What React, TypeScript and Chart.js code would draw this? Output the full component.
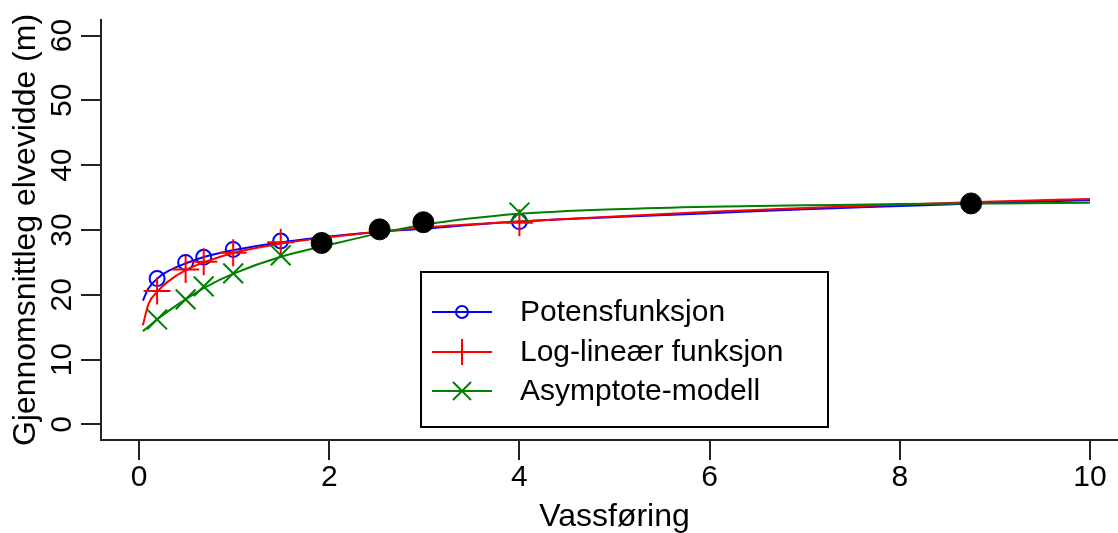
import React, { useEffect, useRef } from "react";
import { Chart, registerables } from "chart.js";

Chart.register(...registerables);

const FONT = "'Liberation Sans', Arial, sans-serif";

// Fitted curves
const curveX = [0.04, 0.1, 0.2, 0.3, 0.5, 0.7, 1, 1.5, 2, 2.5, 3, 3.5, 4, 5, 6, 7, 8, 9, 10];
const potensCurve = [19.1, 21.0, 22.6, 23.6, 24.9, 25.9, 26.9, 28.1, 29.0, 29.7, 30.2, 30.8, 31.3, 32.0, 32.6, 33.2, 33.7, 34.2, 34.6];
const loglinCurve = [15.3, 18.6, 20.6, 22.0, 23.9, 25.1, 26.5, 27.9, 28.9, 29.7, 30.4, 30.9, 31.3, 32.1, 32.8, 33.4, 33.9, 34.4, 34.8];
const asymCurve = [14.4, 15.1, 16.3, 17.4, 19.4, 21.2, 23.3, 25.9, 27.7, 29.4, 30.8, 31.8, 32.5, 33.2, 33.6, 33.8, 34.0, 34.1, 34.2];

// Model predictions at the measured flows
const markerX = [0.19, 0.49, 0.68, 0.99, 1.49, 4.0];
const potensMarkers = [22.5, 25.0, 25.8, 27.0, 28.3, 31.3];
const loglinMarkers = [20.6, 23.9, 25.1, 26.5, 28.1, 31.1];
const asymMarkers = [16.2, 19.3, 21.3, 23.3, 26.1, 32.7];

// Observed points
const observedX = [1.92, 2.53, 2.99, 8.75];
const observedY = [28.0, 30.1, 31.2, 34.1];

// Axes
const xTicks = [0, 2, 4, 6, 8, 10];
const yTicks = [0, 10, 20, 30, 40, 50, 60];
const xTitle = "Vassføring";
const yTitle = "Gjennomsnittleg elvevidde (m)";
const seriesLabels = ["Potensfunksjon", "Log-lineær funksjon", "Asymptote-modell"];

const BLUE = "#0000ff";
const RED = "#ff0000";
const GREEN = "#008000";

const pts = (xs: number[], ys: number[]) => xs.map((x, i) => ({ x, y: ys[i] }));

const legendPlugin = {
  id: "boxLegend",
  afterDraw(chart: any) {
    const ctx = chart.ctx as CanvasRenderingContext2D;
    const left = 421, top = 272, right = 828, bottom = 427;
    ctx.save();
    ctx.strokeStyle = "#000";
    ctx.lineWidth = 2;
    ctx.strokeRect(left, top, right - left, bottom - top);
    const rows = [312, 352, 391];
    const colors = [BLUE, RED, GREEN];
    seriesLabels.forEach((label, i) => {
      const y = rows[i];
      ctx.strokeStyle = colors[i];
      ctx.lineWidth = 2;
      ctx.beginPath();
      ctx.moveTo(432, y);
      ctx.lineTo(492, y);
      ctx.stroke();
      const cx = 462;
      ctx.beginPath();
      if (i === 0) {
        ctx.arc(cx, y, 6, 0, Math.PI * 2);
      } else if (i === 1) {
        ctx.moveTo(cx, y - 13);
        ctx.lineTo(cx, y + 13);
      } else {
        ctx.moveTo(cx - 9, y - 9);
        ctx.lineTo(cx + 9, y + 9);
        ctx.moveTo(cx - 9, y + 9);
        ctx.lineTo(cx + 9, y - 9);
      }
      ctx.stroke();
      ctx.fillStyle = "#000";
      ctx.font = `30px ${FONT}`;
      ctx.textAlign = "left";
      ctx.textBaseline = "middle";
      ctx.fillText(label, 520, y + 1);
    });
    ctx.restore();
  },
};

export default function App() {
  const ref = useRef<HTMLCanvasElement | null>(null);

  useEffect(() => {
    if (!ref.current) return;
    const font = { family: FONT, size: 30 };
    const titleFont = { family: FONT, size: 32, lineHeight: 1 };
    const chart = new Chart(ref.current, {
      type: "scatter",
      data: {
        datasets: [
          {
            label: "Observert",
            data: pts(observedX, observedY),
            pointStyle: "circle",
            pointRadius: 10.5,
            backgroundColor: "#000",
            borderColor: "#000",
            borderWidth: 1,
            order: 0,
          },
          {
            label: seriesLabels[2] + " punkt",
            data: pts(markerX, asymMarkers),
            pointStyle: "crossRot",
            pointRadius: 14,
            borderColor: GREEN,
            borderWidth: 2,
            order: 1,
          },
          {
            label: seriesLabels[2],
            data: pts(curveX, asymCurve),
            showLine: true,
            borderColor: GREEN,
            borderWidth: 2,
            pointRadius: 0,
            cubicInterpolationMode: "monotone",
            order: 2,
          },
          {
            label: seriesLabels[1] + " punkt",
            data: pts(markerX, loglinMarkers),
            pointStyle: "cross",
            pointRadius: 13.5,
            borderColor: RED,
            borderWidth: 2,
            order: 3,
          },
          {
            label: seriesLabels[1],
            data: pts(curveX, loglinCurve),
            showLine: true,
            borderColor: RED,
            borderWidth: 2,
            pointRadius: 0,
            cubicInterpolationMode: "monotone",
            order: 4,
          },
          {
            label: seriesLabels[0] + " punkt",
            data: pts(markerX, potensMarkers),
            pointStyle: "circle",
            pointRadius: 7.5,
            backgroundColor: "rgba(0,0,0,0)",
            borderColor: BLUE,
            borderWidth: 2,
            order: 5,
          },
          {
            label: seriesLabels[0],
            data: pts(curveX, potensCurve),
            showLine: true,
            borderColor: BLUE,
            borderWidth: 2,
            pointRadius: 0,
            cubicInterpolationMode: "monotone",
            order: 6,
          },
        ],
      },
      options: {
        responsive: false,
        animation: false,
        devicePixelRatio: 1,
        layout: { padding: { top: 17, right: 12, left: 0, bottom: 0 } },
        plugins: { legend: { display: false }, tooltip: { enabled: false } },
        scales: {
          x: {
            type: "linear",
            min: -0.4,
            max: 10.4,
            afterBuildTicks: (s: any) => {
              s.ticks = xTicks.map((v) => ({ value: v }));
            },
            afterFit: (s: any) => {
              s.height = 93;
            },
            ticks: { font, color: "#000", padding: 0, includeBounds: false, autoSkip: false, maxRotation: 0 },
            grid: { drawOnChartArea: false, tickLength: 20, color: "#222", lineWidth: 2 },
            border: { color: "#222", width: 2 },
            title: { display: true, text: xTitle, font: titleFont, color: "#000", padding: { top: 0, bottom: 0 } },
          },
          y: {
            type: "linear",
            min: -2.4,
            max: 62.4,
            afterBuildTicks: (s: any) => {
              s.ticks = yTicks.map((v) => ({ value: v }));
            },
            afterFit: (s: any) => {
              s.width = 101;
            },
            ticks: { font, color: "#000", padding: 2, minRotation: 90, maxRotation: 90, crossAlign: "center", includeBounds: false, autoSkip: false },
            grid: { drawOnChartArea: false, tickLength: 20, color: "#222", lineWidth: 2 },
            border: { color: "#222", width: 2 },
            title: { display: true, text: yTitle, font: titleFont, color: "#000", padding: { top: 10, bottom: 0 } },
          },
        },
      },
      plugins: [legendPlugin],
    } as any);
    return () => chart.destroy();
  }, []);

  return (
    <div
      style={{
        position: "fixed",
        left: 0,
        top: 0,
        width: 1118,
        height: 533,
        overflow: "hidden",
        background: "#fff",
      }}
    >
      <canvas ref={ref} width={1144} height={533} style={{ display: "block" }} />
    </div>
  );
}
